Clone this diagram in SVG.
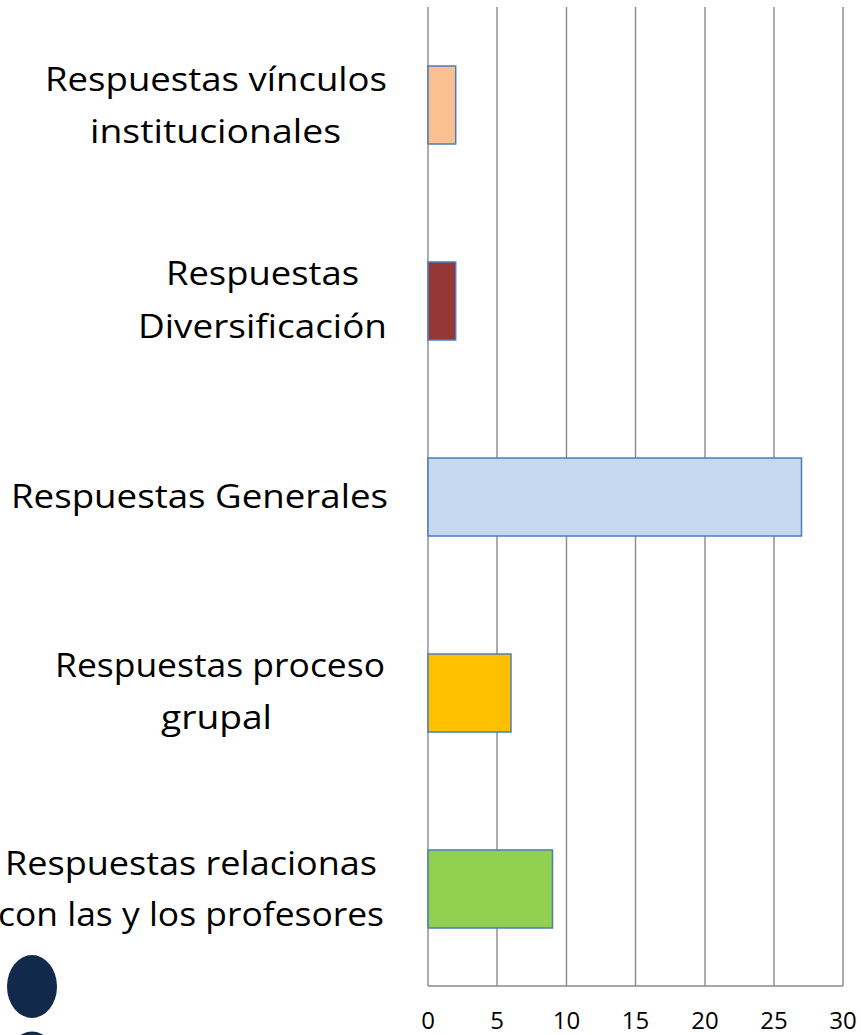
<svg xmlns="http://www.w3.org/2000/svg" width="861" height="1035" viewBox="0 0 861 1035">
<style>
.lbl{font-family:"Open Sans","Noto Sans","Liberation Sans",sans-serif;font-size:33px;fill:#000}
.tick{font-family:"Open Sans","Noto Sans","Liberation Sans",sans-serif;font-size:24px;fill:#000;text-anchor:middle}
.grid{stroke:#8A8A8A;stroke-width:1.4;fill:none}
.bar{stroke:#4A7EBB;stroke-width:1.5}
</style>
<rect width="861" height="1035" fill="#fff"/>
<g id="grid">
<line class="grid" x1="428" y1="7" x2="428" y2="986"/>
<line class="grid" x1="497" y1="7" x2="497" y2="986"/>
<line class="grid" x1="566.5" y1="7" x2="566.5" y2="986"/>
<line class="grid" x1="635.5" y1="7" x2="635.5" y2="986"/>
<line class="grid" x1="705" y1="7" x2="705" y2="986"/>
<line class="grid" x1="774" y1="7" x2="774" y2="986"/>
<line class="grid" x1="843" y1="7" x2="843" y2="986"/>
<line class="grid" x1="428" y1="986" x2="843" y2="986"/>
</g>
<g id="ticks">
<text class="tick" x="428" y="1029">0</text>
<text class="tick" x="497" y="1029">5</text>
<text class="tick" x="566.5" y="1029">10</text>
<text class="tick" x="635.5" y="1029">15</text>
<text class="tick" x="705" y="1029">20</text>
<text class="tick" x="774" y="1029">25</text>
<text class="tick" x="843" y="1029">30</text>
</g>
<g id="bar-vinculos">
<rect class="bar" x="428" y="66" width="27.7" height="78" fill="#FAC090"/>
<text class="lbl" x="45" y="91" textLength="342" lengthAdjust="spacingAndGlyphs">Respuestas vínculos</text>
<text class="lbl" x="90" y="143" textLength="251" lengthAdjust="spacingAndGlyphs">institucionales</text>
</g>
<g id="bar-diversificacion">
<rect class="bar" x="428" y="262" width="27.7" height="78" fill="#953735"/>
<text class="lbl" x="166" y="285" textLength="193" lengthAdjust="spacingAndGlyphs">Respuestas</text>
<text class="lbl" x="138" y="338" textLength="249" lengthAdjust="spacingAndGlyphs">Diversificación</text>
</g>
<g id="bar-generales">
<rect class="bar" x="428" y="458" width="373.5" height="78" fill="#C6D9F1"/>
<text class="lbl" x="11" y="508" textLength="377" lengthAdjust="spacingAndGlyphs">Respuestas Generales</text>
</g>
<g id="bar-proceso">
<rect class="bar" x="428" y="654" width="83" height="78" fill="#FFC000"/>
<text class="lbl" x="55" y="677" textLength="330" lengthAdjust="spacingAndGlyphs">Respuestas proceso</text>
<text class="lbl" x="161" y="729" textLength="111" lengthAdjust="spacingAndGlyphs">grupal</text>
</g>
<g id="bar-profesores">
<rect class="bar" x="428" y="850" width="124.5" height="78" fill="#92D050"/>
<text class="lbl" x="5" y="875" textLength="372" lengthAdjust="spacingAndGlyphs">Respuestas relacionas</text>
<text class="lbl" x="-2" y="926" textLength="386" lengthAdjust="spacingAndGlyphs">con las y los profesores</text>
</g>
<g id="bullets">
<ellipse cx="32" cy="986.5" rx="25" ry="31.5" fill="#13294B"/>
<ellipse cx="32" cy="1063" rx="25" ry="31.5" fill="#13294B"/>
</g>
</svg>
